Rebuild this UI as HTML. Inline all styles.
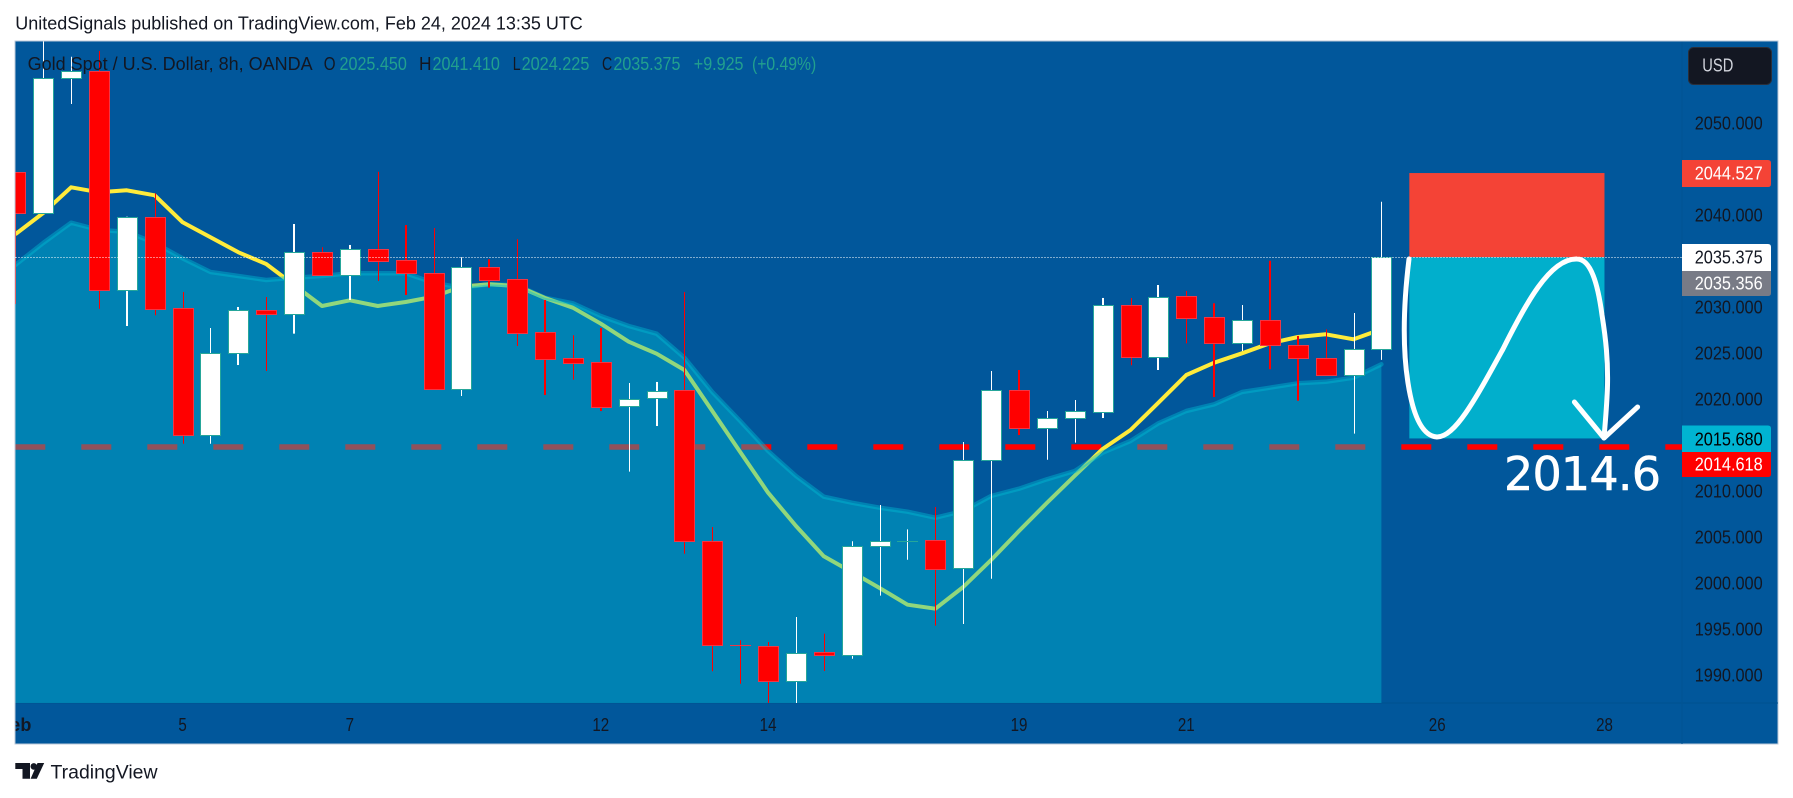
<!DOCTYPE html>
<html lang="en">
<head>
<meta charset="utf-8">
<title>Gold Spot / U.S. Dollar, 8h, OANDA</title>
<style>
html,body{margin:0;padding:0;background:#fff;width:1793px;height:798px;overflow:hidden}
svg{display:block}
text{font-family:"Liberation Sans",sans-serif}
</style>
</head>
<body>
<svg id="chart" xmlns="http://www.w3.org/2000/svg" width="1793" height="798" viewBox="0 0 1793 798">
  <defs>
    <clipPath id="plot-clip"><rect x="15.5" y="41.5" width="1666.5" height="661.5"/></clipPath>
    <clipPath id="time-clip"><rect x="15.5" y="703" width="1666.5" height="41"/></clipPath>
  </defs>
  <rect x="0" y="0" width="1793" height="798" fill="#ffffff"/>
  <text x="15.3" y="29.3" font-size="18" fill="#131722" textLength="567.5" lengthAdjust="spacingAndGlyphs">UnitedSignals published on TradingView.com, Feb 24, 2024 13:35 UTC</text>
  <rect x="15" y="41" width="1763" height="703" fill="#01579B" stroke="#bcc9d8" stroke-width="1"/>
  <line x1="15.5" x2="1778" y1="703" y2="703" stroke="#00528f" stroke-width="1"/>
  <line x1="1682" x2="1682" y1="41.5" y2="744" stroke="#015393" stroke-width="1"/>

  <g id="plot-layer" clip-path="url(#plot-clip)"></g>

  <g>
    <rect id="stop-zone" fill="#F44336"/>
    <rect id="target-zone" fill="#01AFCC"/>
  </g>
  <line id="last-price-line" x1="15.5" x2="1682" stroke="#ffffff" stroke-width="1" stroke-dasharray="1 2"/>
  <g fill="none" stroke="#ffffff" stroke-width="5" stroke-linecap="round" stroke-linejoin="round">
    <path d="M1409 259 C1404 300,1402 345,1408 383 C1413 415,1422 436,1437 437 C1455 437,1475 400,1503 349 C1525 305,1550 258,1577 259 C1591 259,1598 285,1602 315 C1606 340,1608 360,1607.5 385 C1607 405,1605 425,1604 438"/>
    <path d="M1574.4 402 L1604 438 L1637.6 407"/>
  </g>
  <text x="1504" y="490" font-size="46" letter-spacing="-0.8" stroke="#ffffff" stroke-width="0.6" style="font-family:'DejaVu Sans',sans-serif" fill="#ffffff">2014.6</text>

  <g font-size="18">
    <text x="27.6" y="70" fill="#131722" textLength="285" lengthAdjust="spacingAndGlyphs">Gold Spot / U.S. Dollar, 8h, OANDA</text>
    <text x="323.8" y="70" fill="#131722" textLength="11.8" lengthAdjust="spacingAndGlyphs">O</text>
    <text x="339.5" y="70" fill="#22a08e" textLength="67.3" lengthAdjust="spacingAndGlyphs">2025.450</text>
    <text x="419" y="70" fill="#131722" textLength="12.5" lengthAdjust="spacingAndGlyphs">H</text>
    <text x="432.5" y="70" fill="#22a08e" textLength="67.3" lengthAdjust="spacingAndGlyphs">2041.410</text>
    <text x="512.8" y="70" fill="#131722" textLength="7.8" lengthAdjust="spacingAndGlyphs">L</text>
    <text x="521.6" y="70" fill="#22a08e" textLength="67.8" lengthAdjust="spacingAndGlyphs">2024.225</text>
    <text x="602" y="70" fill="#131722" textLength="10.2" lengthAdjust="spacingAndGlyphs">C</text>
    <text x="613.4" y="70" fill="#22a08e" textLength="67" lengthAdjust="spacingAndGlyphs">2035.375</text>
    <text x="693.8" y="70" fill="#22a08e" textLength="49.7" lengthAdjust="spacingAndGlyphs">+9.925</text>
    <text x="752" y="70" fill="#22a08e" textLength="64.2" lengthAdjust="spacingAndGlyphs">(+0.49%)</text>
  </g>

  <g id="price-axis"></g>
  <g id="time-axis" clip-path="url(#time-clip)"></g>

  <g>
    <rect x="1688.5" y="47.5" width="83" height="37" rx="5" fill="#131722" stroke="#2a2e39" stroke-width="1"/>
    <text x="1702.3" y="71.7" font-size="18" fill="#d1d4dc" textLength="31" lengthAdjust="spacingAndGlyphs">USD</text>
  </g>

  <g font-size="18">
    <path d="M1682 160 H1768 q3 0 3 3 V184 q0 3 -3 3 H1682 Z" fill="#F44336"/>
    <text x="1694.7" y="179.7" fill="#ffffff" textLength="68" lengthAdjust="spacingAndGlyphs">2044.527</text>
    <path d="M1682 244 H1768 q3 0 3 3 V271 H1682 Z" fill="#ffffff"/>
    <text x="1694.7" y="263.7" fill="#131722" textLength="68" lengthAdjust="spacingAndGlyphs">2035.375</text>
    <path d="M1682 271 H1771 V293 q0 3 -3 3 H1682 Z" fill="#787B86"/>
    <text x="1694.7" y="289.3" fill="#ffffff" textLength="68" lengthAdjust="spacingAndGlyphs">2035.356</text>
    <path d="M1682 425.5 H1768 q3 0 3 3 V452 H1682 Z" fill="#00B4D2"/>
    <text x="1694.7" y="445.3" fill="#000000" textLength="68" lengthAdjust="spacingAndGlyphs">2015.680</text>
    <path d="M1682 452 H1771 V474 q0 3 -3 3 H1682 Z" fill="#FF0000"/>
    <text x="1694.7" y="470.3" fill="#ffffff" textLength="68" lengthAdjust="spacingAndGlyphs">2014.618</text>
  </g>

  <g>
    <path fill="#131722" d="M15.3 763 H30 V778.7 H22.5 V769 H15.3 Z"/>
    <circle fill="#131722" cx="33.8" cy="766.4" r="3.3"/>
    <path fill="#131722" d="M37.5 763 H44.2 L36.8 778.7 H30.6 Z"/>
    <text x="50.5" y="778.7" font-size="19.5" fill="#131722" textLength="107" lengthAdjust="spacingAndGlyphs">TradingView</text>
  </g>
</svg>

<script>
// Bars run from index -1 (left edge) to 48 (last bar, Feb 23)
const barIndexes = [-1,0,1,2,3,4,5,6,7,8,9,10,11,12,13,14,15,16,17,18,19,20,21,22,23,24,25,26,27,28,29,30,31,32,33,34,35,36,37,38,39,40,41,42,43,44,45,46,47,48];
const opens  = [2044.61,2040.15,2054.83,2055.59,2031.78,2039.78,2029.83,2016.02,2024.93,2029.64,2029.24,2035.91,2033.41,2036.24,2035.04,2033.63,2021.09,2034.28,2032.98,2027.22,2024.39,2023.96,2019.17,2020.04,2020.91,2004.5,1993.2,1993.09,1989.28,1992.43,1992.1,2003.96,2004.57,2004.6,2001.57,2013.3,2020.91,2016.85,2017.93,2018.59,2030.15,2024.5,2031.13,2028.85,2026.02,2028.52,2025.8,2024.39,2022.54,2025.45];
const highs  = [2044.61,2059,2057.17,2057.79,2039.78,2042.33,2031.6,2027.68,2029.97,2031.05,2038.99,2036.46,2036.71,2044.67,2038.88,2038.55,2035.37,2035.15,2037.33,2030.73,2026.9,2027.68,2021.71,2021.82,2031.6,2006.05,1993.74,1993.55,1996.27,1994.46,2004.5,2008.45,2005.8,2008.23,2015.29,2023.01,2023.12,2018.66,2019.86,2030.95,2030.95,2032.36,2031.71,2030.37,2030.18,2035,2026.82,2027.54,2029.32,2041.41];
const lows   = [2030.3,2040.15,2052.03,2029.78,2027.9,2029.07,2015.1,2015.1,2023.66,2023.01,2027.07,2033.41,2030.73,2032.79,2031.27,2021.09,2020.29,2032.07,2025.73,2020.4,2022.07,2018.66,2012.07,2017.03,2003.15,1990.37,1989.02,1986.5,1986.5,1990.4,1991.74,1998.59,2002.5,1995.33,1995.51,2000.43,2016.05,2013.37,2015.22,2017.9,2023.63,2023.12,2026.02,2020.18,2025.18,2023.2,2019.78,2022.47,2016.2,2024.225];
const closes = [2040.15,2054.83,2055.59,2031.78,2039.78,2029.78,2016.02,2024.93,2029.6,2029.24,2035.91,2033.41,2036.24,2035,2033.63,2021.09,2034.28,2032.93,2027.17,2024.35,2023.91,2019.13,2020,2020.87,2004.5,1993.2,1993.19,1989.28,1992.39,1992.1,2003.96,2004.5,2004.57,2001.52,2013.3,2020.91,2016.85,2017.93,2018.63,2030.15,2024.5,2031.09,2028.8,2026.02,2028.52,2025.8,2024.39,2022.54,2025.43,2035.375];
const fastAverage = [2037.87,2040.18,2042.98,2042.43,2042.65,2042.11,2039.17,2037.54,2035.91,2034.64,2032.36,2030.08,2030.7,2030.08,2030.51,2031.09,2032.17,2032.43,2032.25,2030.95,2029.89,2028.15,2026.2,2024.89,2023.12,2018.66,2014.21,2009.78,2006.16,2002.87,2001.16,1999.42,1997.61,1997.17,1999.53,2002.47,2005.62,2008.67,2011.63,2014.53,2016.6,2019.57,2022.58,2023.91,2024.93,2026.02,2026.71,2027,2026.46,2027.54];
const slowAverage = [2034.53,2036.92,2039.13,2038.34,2038.15,2036.92,2035.26,2033.77,2033.34,2032.9,2033.15,2033.34,2033.63,2033.63,2033.63,2032.61,2032.07,2032.43,2032.33,2030.98,2030.37,2028.99,2027.9,2027.07,2024.46,2020.73,2017.58,2014.32,2011.6,2009.35,2008.7,2008.15,2007.72,2007.07,2007.79,2009.42,2010.22,2011.24,2012.14,2014.13,2015.4,2017.33,2018.66,2019.39,2020.73,2021.2,2021.67,2021.84,2022.28,2023.74];
const priceTicks = [2050,2045,2040,2035,2030,2025,2020,2015,2010,2005,2000,1995,1990];
const hiddenPriceTicks = [2045,2035,2015];
const timeTickLabels = ["Feb","5","7","12","14","19","21","26","28"];
const timeTickBars = [-1,5,11,20,26,35,41,50,56];
const thickWickBars = [3,7,9,11,13,16,18,20,22,35,38,40,42,44,45];
const levelPrice = 2014.75;
const stopPrice = 2044.527;
const entryPrice = 2035.375;
const targetPrice = 2015.68;
const positionStartBar = 49;
const positionEndBar = 56;

const NS = 'http://www.w3.org/2000/svg';
function xAt(bar){ return 43.2 + 27.88 * bar; }
function yAt(price){ return 122.7 + (2050 - price) * 9.2; }
function make(tag, parent){ const el = document.createElementNS(NS, tag); parent.appendChild(el); return el; }

const plot = document.getElementById('plot-layer');
const plotBottom = 703;

// dashed horizontal level
const level = make('line', plot);


level.setAttribute('x1', 15.3);
level.setAttribute('x2', 1682);
level.setAttribute('y1', yAt(levelPrice));
level.setAttribute('y2', yAt(levelPrice));
level.setAttribute('stroke', '#FF0000');
level.setAttribute('stroke-width', 5.4);
level.setAttribute('stroke-dasharray', '30 36');

function linePoints(values){
  return values.map(function(v, k){ return xAt(barIndexes[k]).toFixed(1) + ',' + yAt(v).toFixed(1); }).join(' ');
}

// fast moving average, sits below the translucent area
const fast = make('polyline', plot);


fast.setAttribute('points', linePoints(fastAverage));
fast.setAttribute('fill', 'none');
fast.setAttribute('stroke', '#FFEB3B');
fast.setAttribute('stroke-width', 4);
fast.setAttribute('stroke-linejoin', 'round');

// slow moving average area
const lastBar = barIndexes[barIndexes.length - 1];
const area = make('polygon', plot);


area.setAttribute('points', linePoints(slowAverage) + ' ' + xAt(lastBar).toFixed(1) + ',' + plotBottom + ' ' + xAt(barIndexes[0]).toFixed(1) + ',' + plotBottom);
area.setAttribute('fill', '#00BCD4');
area.setAttribute('fill-opacity', 0.43);

const slow = make('polyline', plot);


slow.setAttribute('points', linePoints(slowAverage));
slow.setAttribute('fill', 'none');
slow.setAttribute('stroke', '#00BCD4');
slow.setAttribute('stroke-opacity', 0.43);
slow.setAttribute('stroke-width', 4.5);
slow.setAttribute('stroke-linejoin', 'round');
slow.setAttribute('stroke-linecap', 'round');

// candles
const candleLayer = make('g', plot);


barIndexes.forEach(function(bar, k){
  const up = closes[k] >= opens[k];
  const flat = Math.abs(closes[k] - opens[k]) < 0.02;
  const cx = Math.round(xAt(bar)) + 0.5;
  const top = yAt(Math.max(opens[k], closes[k]));
  const bottom = yAt(Math.min(opens[k], closes[k]));
  const thick = thickWickBars.indexOf(bar) !== -1;

  const wick = make('line', candleLayer);
  
  
  wick.setAttribute('x1', thick ? cx - 0.5 : cx);
  wick.setAttribute('x2', thick ? cx - 0.5 : cx);
  wick.setAttribute('y1', yAt(highs[k]));
  wick.setAttribute('y2', yAt(lows[k]));
  wick.setAttribute('stroke', up ? '#ffffff' : '#FF0000');
  wick.setAttribute('stroke-width', thick ? 2 : 1);

  const body = make('rect', candleLayer);
  
  
  if (flat) {
    body.setAttribute('x', cx - 10.5);
    body.setAttribute('y', Math.round(top));
    body.setAttribute('width', 21);
    body.setAttribute('height', 1);
    body.setAttribute('fill', up ? '#26A69A' : '#F23645');
  } else {
    body.setAttribute('x', cx - 10);
    body.setAttribute('y', Math.round(top) + 0.5);
    body.setAttribute('width', 20);
    body.setAttribute('height', Math.max(1, Math.round(bottom) - Math.round(top)));
    body.setAttribute('fill', up ? '#ffffff' : '#FF0000');
    body.setAttribute('stroke', up ? '#26A69A' : '#F23645');
    body.setAttribute('stroke-width', 1);
  }
});

// position tool
const stopZone = document.getElementById('stop-zone');
stopZone.setAttribute('x', xAt(positionStartBar));
stopZone.setAttribute('width', xAt(positionEndBar) - xAt(positionStartBar));
stopZone.setAttribute('y', yAt(stopPrice));
stopZone.setAttribute('height', yAt(entryPrice) - yAt(stopPrice));
const targetZone = document.getElementById('target-zone');
targetZone.setAttribute('x', xAt(positionStartBar));
targetZone.setAttribute('width', xAt(positionEndBar) - xAt(positionStartBar));
targetZone.setAttribute('y', yAt(entryPrice));
targetZone.setAttribute('height', yAt(targetPrice) - yAt(entryPrice));

const lastLine = document.getElementById('last-price-line');
lastLine.setAttribute('y1', Math.round(yAt(entryPrice)) + 0.5);
lastLine.setAttribute('y2', Math.round(yAt(entryPrice)) + 0.5);

// price axis
const priceAxis = document.getElementById('price-axis');
priceTicks.forEach(function(p){
  if (hiddenPriceTicks.indexOf(p) !== -1) return;
  const t = make('text', priceAxis);
  
  
  t.setAttribute('x', 1694.7);
  t.setAttribute('y', yAt(p) + 6.6);
  t.setAttribute('font-size', 18);
  t.setAttribute('fill', '#131722');
  t.setAttribute('textLength', 68);
  t.setAttribute('lengthAdjust', 'spacingAndGlyphs');
  t.textContent = p.toFixed(3);
});

// time axis
const timeAxis = document.getElementById('time-axis');
timeTickLabels.forEach(function(label, k){
  const t = make('text', timeAxis);
  
  
  t.setAttribute('x', xAt(timeTickBars[k]));
  t.setAttribute('y', 731);
  t.setAttribute('font-size', 18);
  t.setAttribute('text-anchor', 'middle');
  t.setAttribute('fill', '#131722');
  if (label === 'Feb') {
    t.setAttribute('font-weight', 'bold');
  } else {
    t.setAttribute('textLength', 8.4 * label.length);
    t.setAttribute('lengthAdjust', 'spacingAndGlyphs');
  }
  t.textContent = label;
});
</script>
</body>
</html>
